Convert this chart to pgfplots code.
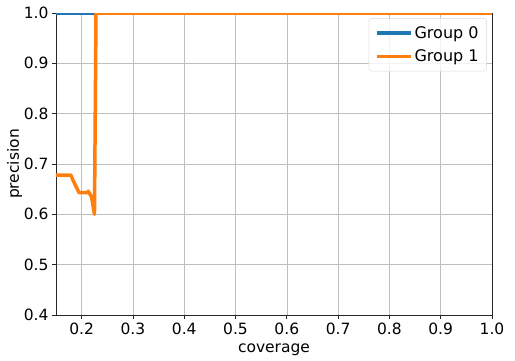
\documentclass[border=0pt]{standalone}
\usepackage{pgfplots}
\pgfplotsset{compat=1.18}
\usepackage{fontspec}
\setmainfont{DejaVu Sans}
\definecolor{c0}{HTML}{1F77B4}
\definecolor{c1}{HTML}{FF7F0E}
\begin{document}
\begin{tikzpicture}
\useasboundingbox (-56pt,-45pt) rectangle (459pt,315pt);
\begin{axis}[
  at={(0,0)}, anchor=south west,
  scale only axis, width=436pt, height=302pt,
  xmin=0.15, xmax=1.0, ymin=0.4, ymax=1.0,
  xtick={0.2,0.3,...,1.0}, ytick={0.4,0.5,...,1.0},
  xticklabel style={/pgf/number format/.cd,fixed,fixed zerofill,precision=1},
  yticklabel style={/pgf/number format/.cd,fixed,fixed zerofill,precision=1},
  /pgf/number format/assume math mode=true,
  xtick pos=bottom, ytick pos=left,
  tick label style={font=\fontsize{15.5}{18}\selectfont},
  label style={font=\fontsize{15.5}{18}\selectfont},
  xlabel={coverage}, ylabel={precision},
  xlabel style={at={(axis description cs:0.5,0)}, anchor=base, yshift=-37pt},
  ylabel style={at={(axis description cs:0,0.5)}, anchor=base, yshift=37pt},
  grid=major, major grid style={color=black!25, line width=0.6pt},
  axis line style={black!85, line width=0.8pt},
  tick align=outside, tick style={black!85, line width=0.8pt},
  major tick length=4pt,
  legend style={font=\fontsize{16}{18}\selectfont, draw=black!15, rounded corners=3pt, fill=white, fill opacity=0.8, text opacity=1, row sep=6pt, inner xsep=6pt, inner ysep=6pt, at={(0.988,0.983)}, anchor=north east},
  legend cell align=left,
  legend image code/.code={\draw[#1, line width=3.5pt] (0pt,0pt) -- (1.2cm,0pt);},
]
\addplot[c0, line width=3pt] coordinates {(0.15,1.0) (1.0,1.0)};
\addlegendentry{Group 0}
\addplot[c1, line width=3.5pt, line join=round] coordinates {
(0.15,0.678) (0.179,0.678) (0.183,0.668) (0.195,0.643) (0.210,0.643) (0.213,0.646) (0.216,0.640) (0.219,0.636) (0.225,0.600) (0.228,1.0) (1.0,1.0)};
\addlegendentry{Group 1}
\end{axis}
\end{tikzpicture}
\end{document}
